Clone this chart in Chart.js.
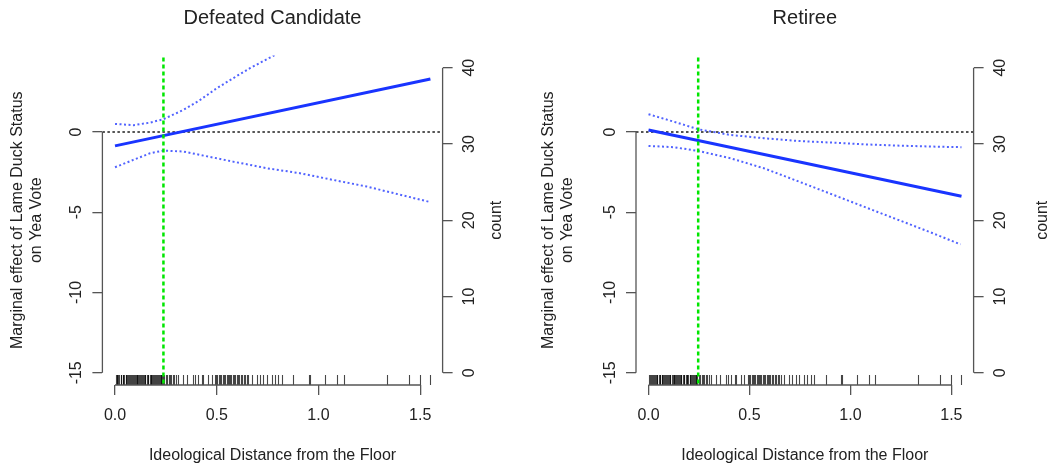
<!DOCTYPE html>
<html>
<head>
<meta charset="utf-8">
<script src="https://cdn.jsdelivr.net/npm/chart.js@4.4.1/dist/chart.umd.min.js"></script>
<style>
html,body{margin:0;padding:0;background:#fff;overflow:hidden}
#wrap{position:relative;width:1057px;height:467px}
.panel{position:absolute;top:0;height:467px}
</style>
</head>
<body>
<div id="wrap">
  <div class="panel" style="left:0;width:528px"><canvas id="c1"></canvas></div>
  <div class="panel" style="left:528px;width:529px"><canvas id="c2"></canvas></div>
</div>
<script>
// ---------- data ----------
const panelTitles = ['Defeated Candidate', 'Retiree'];
const xAxisTitle = 'Ideological Distance from the Floor';
const yAxisTitle = ['Marginal effect of Lame Duck Status', 'on Yea Vote'];
const countAxisTitle = 'count';
const xTickValues = [0, 0.5, 1.0, 1.5];
const yTickValues = [-15, -10, -5, 0];
const countTickValues = [0, 10, 20, 30, 40];
const meanDistance = [0.238, 0.246];

// Defeated Candidate
const defeatedEstX = [0, 1.55];
const defeatedEstY = [-0.87, 3.30];
const defeatedUpperX = [0, 0.09, 0.172, 0.237, 0.336, 0.418, 0.50, 0.58, 0.663, 0.79];
const defeatedUpperY = [0.50, 0.42, 0.58, 0.79, 1.37, 1.99, 2.72, 3.34, 3.97, 4.82];
const defeatedLowerX = [0, 0.09, 0.172, 0.237, 0.336, 0.418, 0.50, 0.58, 0.663, 0.745, 0.909, 1.073, 1.237, 1.54];
const defeatedLowerY = [-2.20, -1.74, -1.33, -1.16, -1.22, -1.43, -1.64, -1.85, -2.05, -2.26, -2.57, -2.99, -3.40, -4.34];

// Retiree
const retireeEstX = [0, 1.55];
const retireeEstY = [0.12, -4.00];
const retireeUpperX = [0, 0.125, 0.245, 0.406, 0.571, 0.736, 0.901, 1.066, 1.231, 1.396, 1.55];
const retireeUpperY = [1.10, 0.64, 0.17, -0.19, -0.39, -0.56, -0.66, -0.77, -0.85, -0.91, -0.95];
const retireeLowerX = [0, 0.125, 0.245, 0.406, 0.571, 0.736, 0.901, 1.066, 1.231, 1.396, 1.545];
const retireeLowerY = [-0.87, -0.95, -1.18, -1.64, -2.26, -3.05, -3.85, -4.65, -5.45, -6.25, -7.00];

// rug of observed distances
const rugDistances = [
  0.004, 0.009, 0.012, 0.017, 0.021, 0.028, 0.031, 0.037, 0.041, 0.044, 0.052, 0.055, 0.059, 0.066,
  0.069, 0.073, 0.079, 0.083, 0.088, 0.091, 0.097, 0.101, 0.106, 0.108, 0.115, 0.119, 0.124, 0.126,
  0.133, 0.137, 0.142, 0.147, 0.149, 0.156, 0.161, 0.163, 0.170, 0.175, 0.177, 0.184, 0.189, 0.193,
  0.198, 0.203, 0.207, 0.212, 0.217, 0.219, 0.224, 0.228, 0.233, 0.236, 0.241, 0.249, 0.255, 0.263,
  0.269, 0.276, 0.284, 0.291, 0.299,
  0.311, 0.336, 0.352, 0.385, 0.393, 0.410, 0.426, 0.434, 0.459, 0.475,
  0.492, 0.498, 0.503, 0.511, 0.516, 0.522, 0.529, 0.535, 0.541, 0.548, 0.553, 0.559, 0.566, 0.572,
  0.579, 0.585, 0.592, 0.598, 0.604, 0.611, 0.618, 0.625, 0.633, 0.641, 0.648, 0.655,
  0.672, 0.697, 0.713, 0.729, 0.746, 0.770, 0.787, 0.803, 0.820,
  0.877, 0.951, 0.959, 1.033, 1.090, 1.123, 1.336, 1.443, 1.500, 1.549
];

// ---------- rendering ----------
Chart.defaults.font.family = "'Liberation Sans', Arial, Helvetica, sans-serif";
Chart.defaults.color = '#222';

const pts = (xs, ys) => xs.map((x, i) => ({x: x, y: ys[i]}));

const rDecor = {
  id: 'rDecor',
  beforeDatasetsDraw(chart, args, o) {
    const {ctx, chartArea: a, scales} = chart;
    const y0 = scales.y.getPixelForValue(0);
    ctx.save();
    ctx.beginPath();
    ctx.setLineDash([2.5, 2.5]);
    ctx.strokeStyle = '#555';
    ctx.lineWidth = 2;
    ctx.moveTo(a.left, y0);
    ctx.lineTo(a.right, y0);
    ctx.stroke();
    ctx.restore();
  },
  afterDatasetsDraw(chart, args, o) {
    const {ctx, chartArea: a, scales} = chart;
    ctx.save();
    // rug
    ctx.strokeStyle = 'rgba(0,0,0,0.72)';
    ctx.lineWidth = 1.1;
    ctx.setLineDash([]);
    rugDistances.forEach(v => {
      const px = Math.round(scales.x.getPixelForValue(v)) + 0.5;
      ctx.beginPath();
      ctx.moveTo(px, a.bottom - 10);
      ctx.lineTo(px, a.bottom);
      ctx.stroke();
    });
    // mean distance line
    const gx = scales.x.getPixelForValue(o.vline);
    ctx.beginPath();
    ctx.setLineDash([4, 3]);
    ctx.strokeStyle = '#00e600';
    ctx.lineWidth = 2.5;
    ctx.moveTo(gx, a.top + 2);
    ctx.lineTo(gx, a.bottom);
    ctx.stroke();
    ctx.restore();
  },
  afterDraw(chart, args, o) {
    const {ctx, chartArea: a, scales} = chart;
    ctx.save();
    ctx.setLineDash([]);
    ctx.strokeStyle = '#555';
    ctx.lineWidth = 1.3;
    // x axis line
    ctx.beginPath();
    ctx.moveTo(scales.x.getPixelForValue(xTickValues[0]), a.bottom);
    ctx.lineTo(scales.x.getPixelForValue(xTickValues[xTickValues.length - 1]), a.bottom);
    ctx.stroke();
    // left y axis line
    ctx.beginPath();
    ctx.moveTo(a.left, scales.y.getPixelForValue(yTickValues[0]));
    ctx.lineTo(a.left, scales.y.getPixelForValue(yTickValues[yTickValues.length - 1]));
    ctx.stroke();
    // right count axis line
    ctx.beginPath();
    ctx.moveTo(a.right, scales.y2.getPixelForValue(countTickValues[0]));
    ctx.lineTo(a.right, scales.y2.getPixelForValue(countTickValues[countTickValues.length - 1]));
    ctx.stroke();
    // count title (reads bottom to top)
    ctx.fillStyle = '#222';
    ctx.font = "16px 'Liberation Sans', Arial, sans-serif";
    ctx.textAlign = 'center';
    ctx.textBaseline = 'middle';
    ctx.translate(a.right + o.countOffset, (a.top + a.bottom) / 2);
    ctx.rotate(-Math.PI / 2);
    ctx.fillText(countAxisTitle, 0, 0);
    ctx.restore();
  }
};

function makePanel(canvasId, idx, est, upper, lower, leftW, rightW, countOffset, yTitlePad) {
  const tickFont = {size: 16};
  return new Chart(document.getElementById(canvasId), {
    type: 'scatter',
    data: {
      datasets: [
        {label: 'upper', data: upper, showLine: true, borderColor: '#5163ff', borderWidth: 2,
         borderDash: [2, 2.5], pointRadius: 0, fill: false},
        {label: 'lower', data: lower, showLine: true, borderColor: '#5163ff', borderWidth: 2,
         borderDash: [2, 2.5], pointRadius: 0, fill: false},
        {label: 'estimate', data: est, showLine: true, borderColor: '#1934ff', borderWidth: 3,
         pointRadius: 0, fill: false}
      ]
    },
    options: {
      responsive: true,
      maintainAspectRatio: false,
      animation: false,
      layout: {padding: 0},
      plugins: {
        legend: {display: false},
        tooltip: {enabled: false},
        title: {display: true, text: panelTitles[idx], fullSize: false,
                font: {size: 20, weight: 'normal'}, color: '#222',
                padding: {top: 6, bottom: 25.5}},
        rDecor: {vline: meanDistance[idx], countOffset: countOffset}
      },
      scales: {
        x: {
          type: 'linear', min: -0.062, max: 1.61,
          afterBuildTicks: s => { s.ticks = xTickValues.map(v => ({value: v})); },
          afterFit: s => { s.height = 82; },
          ticks: {font: tickFont, padding: 11, maxRotation: 0, autoSkip: false,
                  callback: v => Number(v).toFixed(1)},
          grid: {drawOnChartArea: false, drawTicks: true, tickLength: 10, color: '#555', lineWidth: 1.3},
          border: {display: false},
          title: {display: true, text: xAxisTitle, font: {size: 16}, color: '#222',
                  padding: {top: 0, bottom: 2}}
        },
        y: {
          type: 'linear', position: 'left', min: -15.76, max: 4.76,
          afterBuildTicks: s => { s.ticks = yTickValues.map(v => ({value: v})); },
          afterFit: s => { s.width = leftW; },
          ticks: {font: tickFont, padding: 4, minRotation: 90, maxRotation: 90,
                  crossAlign: 'center', autoSkip: false},
          grid: {drawOnChartArea: false, drawTicks: true, tickLength: 10, color: '#555', lineWidth: 1.3},
          border: {display: false},
          title: {display: true, text: yAxisTitle, font: {size: 16}, color: '#222',
                  padding: {top: yTitlePad, bottom: 0}}
        },
        y2: {
          type: 'linear', position: 'right', min: -1.6, max: 41.6,
          afterBuildTicks: s => { s.ticks = countTickValues.map(v => ({value: v})); },
          afterFit: s => { s.width = rightW; },
          ticks: {font: tickFont, padding: 8, minRotation: 90, maxRotation: 90,
                  crossAlign: 'center', autoSkip: false},
          grid: {drawOnChartArea: false, drawTicks: true, tickLength: 10, color: '#555', lineWidth: 1.3},
          border: {display: false}
        }
      }
    },
    plugins: [rDecor]
  });
}

makePanel('c1', 0,
  pts(defeatedEstX, defeatedEstY), pts(defeatedUpperX, defeatedUpperY), pts(defeatedLowerX, defeatedLowerY),
  102.4, 85.4, 54, 8);
makePanel('c2', 1,
  pts(retireeEstX, retireeEstY), pts(retireeUpperX, retireeUpperY), pts(retireeLowerX, retireeLowerY),
  108, 83.4, 69, 11);
</script>
</body>
</html>
